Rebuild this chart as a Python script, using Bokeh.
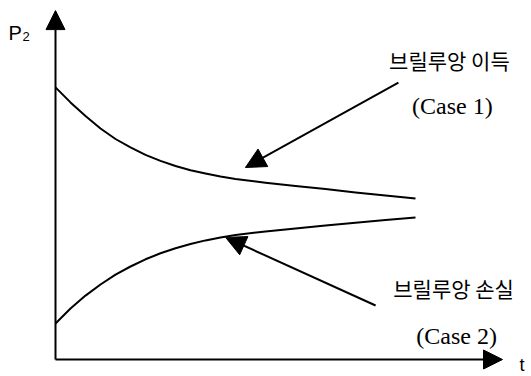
from bokeh.plotting import figure
from bokeh.models import Range1d, Arrow, NormalHead, ColumnDataSource
from bokeh.core.properties import value
from bokeh.embed import file_html
from bokeh.resources import INLINE

# ---- data (arbitrary units) ----
t_values = [0, 0.5, 1, 1.5, 2, 2.5, 3, 3.5, 4, 4.5, 5, 5.5, 6, 7, 8, 9, 10, 11, 12]
gain_case1 = [9.07, 8.57, 8.12, 7.70, 7.35, 7.07, 6.82, 6.62, 6.45, 6.31, 6.20, 6.10, 6.02,
              5.89, 5.78, 5.68, 5.57, 5.47, 5.37]
loss_case2 = [1.20, 1.70, 2.13, 2.50, 2.83, 3.10, 3.34, 3.54, 3.71, 3.85, 3.97, 4.07, 4.15,
              4.27, 4.37, 4.47, 4.56, 4.65, 4.73]

label_gain = "브릴루앙 이득"
label_gain_case = "(Case 1)"
label_loss = "브릴루앙 손실"
label_loss_case = "(Case 2)"
y_label = "P"
y_label_sub = "2"
x_label = "t"

p = figure(width=531, height=376, output_backend="svg", toolbar_location=None,
           x_axis_type=None, y_axis_type=None, min_border=0,
           x_range=Range1d(-55 / 30, 476 / 30), y_range=Range1d(-17 / 30, 359 / 30))
p.grid.visible = False
p.outline_line_color = None
p.background_fill_color = "white"
p.border_fill_color = "white"

src = ColumnDataSource(dict(t=t_values, up=gain_case1, lo=loss_case2))
p.line("t", "up", source=src, line_color="black", line_width=2, line_join="round")
p.line("t", "lo", source=src, line_color="black", line_width=2, line_join="round")

# axes with arrow heads
p.add_layout(Arrow(x_start=0, y_start=0, x_end=0, y_end=11.63, line_width=2, line_color="black",
                   end=NormalHead(size=19, fill_color="black", line_color="black")))
p.add_layout(Arrow(x_start=0, y_start=0, x_end=14.9, y_end=0, line_width=2, line_color="black",
                   end=NormalHead(size=19, fill_color="black", line_color="black")))

# annotation arrows
p.add_layout(Arrow(x_start=11.43, y_start=9.23, x_end=6.33, y_end=6.4, line_width=2, line_color="black",
                   end=NormalHead(size=20, fill_color="black", line_color="black")))
p.add_layout(Arrow(x_start=10.67, y_start=1.8, x_end=5.67, y_end=4.07, line_width=2, line_color="black",
                   end=NormalHead(size=20, fill_color="black", line_color="black")))

kr = value("Noto Sans CJK KR")
serif = value("Liberation Serif")
sans = value("Liberation Sans")

p.text(x=[13.13], y=[10.0], text=[label_gain], text_font=kr, text_font_size="21px",
       text_align="center", text_baseline="middle", text_color="black")
p.text(x=[13.23], y=[8.45], text=[label_gain_case], text_font=serif, text_font_size="24px",
       text_align="center", text_baseline="middle", text_color="black")
p.text(x=[13.27], y=[2.37], text=[label_loss], text_font=kr, text_font_size="21px",
       text_align="center", text_baseline="middle", text_color="black")
p.text(x=[13.37], y=[0.8], text=[label_loss_case], text_font=serif, text_font_size="24px",
       text_align="center", text_baseline="middle", text_color="black")

p.text(x=[-1.567], y=[10.9], text=[y_label], text_font=sans, text_font_size="20px",
       text_align="left", text_baseline="middle", text_color="black")
p.text(x=[-1.1], y=[10.78], text=[y_label_sub], text_font=sans, text_font_size="13px",
       text_align="left", text_baseline="middle", text_color="black")
p.text(x=[15.47], y=[-0.17], text=[x_label], text_font=sans, text_font_size="18px",
       text_align="left", text_baseline="middle", text_color="black")

open("out.html", "w").write(file_html(p, INLINE))
